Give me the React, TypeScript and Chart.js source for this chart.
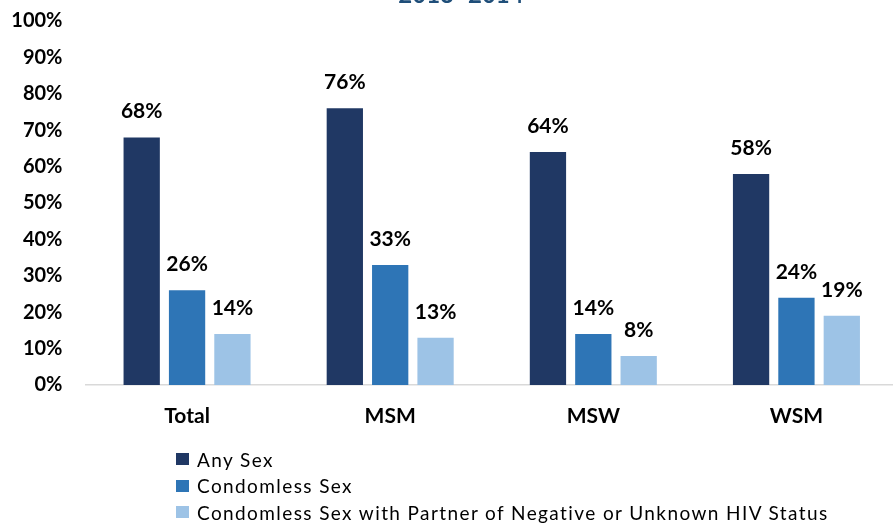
import React, { useEffect, useRef } from "react";
import { Chart, registerables } from "chart.js";

Chart.register(...registerables);

const categories = ["Total", "MSM", "MSW", "WSM"];
const anySex = [68, 76, 64, 58];
const condomless = [26, 33, 14, 24];
const condomlessNegUnknown = [14, 13, 8, 19];
const seriesNames = [
  "Any Sex",
  "Condomless Sex",
  "Condomless Sex with Partner of Negative or Unknown HIV Status",
];
const seriesColors = ["#203864", "#2E75B6", "#9DC3E6"];
const titleText = "2013–2014";

const FONT = "Lato, 'Open Sans', sans-serif";

export default function App() {
  const ref = useRef<HTMLCanvasElement | null>(null);

  useEffect(() => {
    if (!ref.current) return;
    const labelPlugin = {
      id: "valueLabels",
      afterDatasetsDraw(chart: any) {
        const ctx = chart.ctx;
        ctx.save();
        ctx.font = `700 21px ${FONT}`;
        ctx.fillStyle = "#000000";
        ctx.textAlign = "center";
        ctx.textBaseline = "alphabetic";
        chart.data.datasets.forEach((ds: any, i: number) => {
          const meta = chart.getDatasetMeta(i);
          meta.data.forEach((el: any, j: number) => {
            ctx.fillText(`${ds.data[j]}%`, el.x, el.y - 19);
          });
        });
        ctx.restore();
      },
    };
    const titlePlugin = {
      id: "cutTitle",
      afterDraw(chart: any) {
        const ctx = chart.ctx;
        ctx.save();
        ctx.font = `700 24px ${FONT}`;
        ctx.fillStyle = "#1F4E79";
        ctx.textAlign = "center";
        ctx.textBaseline = "alphabetic";
        ctx.fillText(titleText, 461, 3);
        ctx.restore();
      },
    };
    const chart = new Chart(ref.current, {
      type: "bar",
      data: {
        labels: categories,
        datasets: [anySex, condomless, condomlessNegUnknown].map((d, i) => ({
          label: seriesNames[i],
          data: d,
          backgroundColor: seriesColors[i],
          borderWidth: 0,
          categoryPercentage: 0.67,
          barPercentage: 0.8,
        })),
      },
      options: {
        animation: false,
        responsive: false,
        devicePixelRatio: 1,
        layout: { padding: { top: 21, left: 0, right: 0, bottom: 0 } },
        plugins: {
          legend: { display: false },
          tooltip: { enabled: false },
          title: { display: false },
        },
        scales: {
          x: {
            grid: { display: false, drawTicks: false },
            border: { display: true, color: "#d9d9d9", width: 1.5 },
            ticks: {
              color: "#000000",
              font: { family: FONT, size: 21, weight: "bold" },
              padding: 19,
            },
            afterFit: (s: any) => {
              s.height = 142;
            },
          },
          y: {
            min: 0,
            max: 100,
            grid: { display: false, drawTicks: false },
            border: { display: false },
            ticks: {
              stepSize: 10,
              color: "#000000",
              font: { family: FONT, size: 20, weight: "bold" },
              padding: 23,
              callback: (v: any) => `${v}%`,
            },
            afterFit: (s: any) => {
              s.width = 85.5;
              s.paddingTop = 0;
              s.paddingBottom = 0;
            },
          },
        },
      },
      plugins: [labelPlugin, titlePlugin],
    });
    return () => chart.destroy();
  }, []);

  return (
    <div
      style={{
        position: "absolute",
        left: 0,
        top: 0,
        width: 893,
        height: 527,
        overflow: "hidden",
        background: "#ffffff",
      }}
    >
      <canvas ref={ref} width={898} height={527} style={{ display: "block" }} />
      <div
        style={{
          position: "absolute",
          left: 176,
          top: 446,
          fontFamily: FONT,
          fontSize: 19,
          letterSpacing: "1.4px",
          color: "#000000",
        }}
      >
        {seriesNames.map((n, i) => (
          <div
            key={n}
            style={{ display: "flex", alignItems: "center", height: 26.5, whiteSpace: "nowrap" }}
          >
            <span
              style={{
                display: "inline-block",
                width: 13,
                height: 12,
                background: seriesColors[i],
                marginRight: 8,
              }}
            />
            <span>{n}</span>
          </div>
        ))}
      </div>
    </div>
  );
}
